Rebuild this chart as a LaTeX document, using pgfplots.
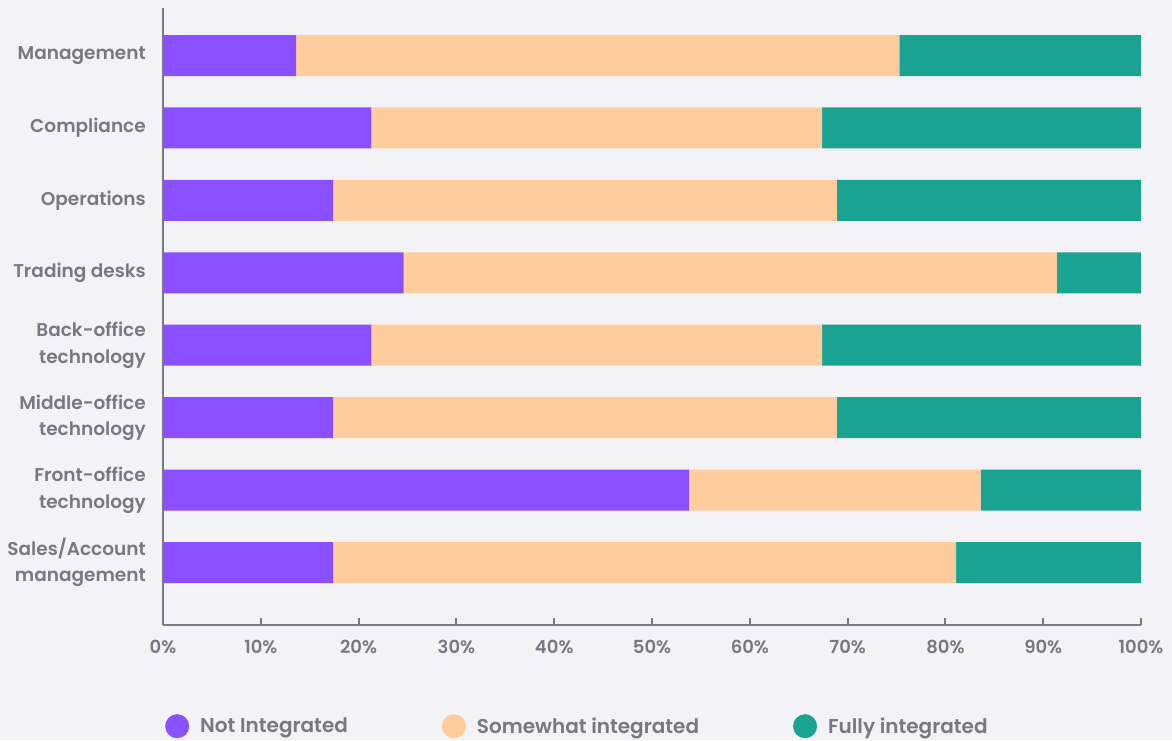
\documentclass[border=0pt]{standalone}
\usepackage{fontspec}
\setmainfont{Poppins SemiBold}
\usepackage{pgfplots}
\usepackage{pgfplotstable}
\pgfplotsset{compat=1.18}
\definecolor{bg}{HTML}{F3F2F7}
\definecolor{purp}{HTML}{8A4FFF}
\definecolor{orng}{HTML}{FFCC9E}
\definecolor{teal}{HTML}{1BA391}
\definecolor{txt}{HTML}{7A7785}
\definecolor{axc}{HTML}{7C7986}
\pgfplotstableread{
y not some full
0 17.4 63.7 18.9
1 53.8 29.8 16.4
2 17.4 51.5 31.1
3 21.3 46.1 32.6
4 24.6 66.8 8.6
5 17.4 51.5 31.1
6 21.3 46.1 32.6
7 13.6 61.7 24.7
}\data
\begin{document}
\begin{tikzpicture}
\fill[bg] (0pt,0pt) rectangle (1172pt,740pt);
\begin{axis}[
  at={(163pt,115pt)}, anchor=south west,
  scale only axis, width=978pt, height=617pt,
  xbar stacked, bar width=41pt,
  xmin=0, xmax=100, ymin=-0.863, ymax=7.656,
  axis x line=bottom, axis y line=left,
  axis line style={-, axc, line width=2.2pt},
  xtick={0,10,...,100},
  xticklabel={\pgfmathprintnumber{\tick}\%},
  /pgf/number format/assume math mode=true,
  tick align=inside, major tick length=7pt,
  xtick style={axc, line width=2pt},
  ytick={0,...,7}, ytick style={draw=none},
  yticklabels={{Sales/Account\\management},{Front-office\\technology},{Middle-office\\technology},{Back-office\\technology},Trading desks,Operations,Compliance,Management},
  yticklabel style={align=right, inner sep=0pt, xshift=-17pt, font=\fontsize{18.5}{26.5}\selectfont, text=txt},
  xticklabel style={inner sep=0pt, yshift=-15pt, font=\fontsize{18}{20}\selectfont, text=txt},
  legend columns=3,
  legend style={at={(rel axis cs:0,0)}, anchor=north west, xshift=2pt, yshift=-89pt, draw=none, fill=none, inner sep=0pt,
    font=\fontsize{20}{22}\selectfont, text=txt,
    /tikz/every odd column/.append style={column sep=9pt},
    /tikz/every even column/.append style={column sep=92pt}},
  legend cell align=left,
]
\addplot[fill=purp, draw=none, legend image code/.code={\fill[purp] (0pt,0pt) circle (12pt);}] table[x=not, y=y] {\data};
\addplot[fill=orng, draw=none, legend image code/.code={\fill[orng] (0pt,0pt) circle (12pt);}] table[x=some, y=y] {\data};
\addplot[fill=teal, draw=none, legend image code/.code={\fill[teal] (0pt,0pt) circle (12pt);}] table[x=full, y=y] {\data};
\legend{Not Integrated, Somewhat integrated, Fully integrated}
\end{axis}
\end{tikzpicture}
\end{document}
